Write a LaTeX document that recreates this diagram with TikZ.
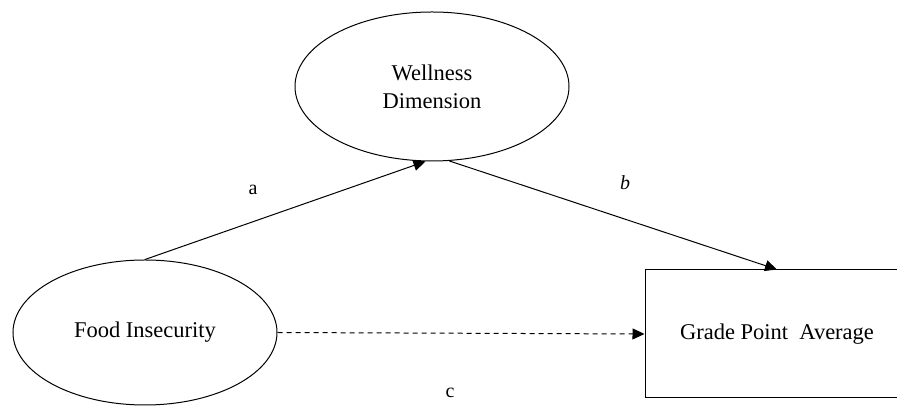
\documentclass[tikz,border=0pt]{standalone}
\usepackage{fontspec}
\setmainfont{Liberation Serif}
\usetikzlibrary{arrows.meta,shapes.geometric}

\tikzset{
  latent/.style={ellipse, draw, line width=1pt, inner sep=0pt, align=center},
  observed/.style={rectangle, draw, line width=1pt, inner sep=0pt, align=center},
  path/.style={line width=1pt, -{Triangle[length=12pt,width=11pt]}},
  lbl/.style={font=\fontsize{20}{24}\selectfont}
}

\begin{document}
\begin{tikzpicture}[x=1pt, y=1pt, font=\fontsize{22.5}{28}\selectfont]
		\useasboundingbox (0,0) rectangle (897,406);
		\clip (0,0) rectangle (897,406);
		\node[latent, minimum width=274pt, minimum height=149pt] (wellness) at (432,319.5) {Wellness\\Dimension};
		\node[latent, minimum width=264pt, minimum height=145pt] (food) at (145,73.5) {Food Insecurity};
		\node[observed, minimum width=264pt, minimum height=128pt] (gpa) at (777,72) {Grade Point\ \ Average};
		\draw[path] (food.north) -- (wellness.265);
		\draw[path] (wellness.283) -- (gpa.north);
		\draw[path, dash pattern=on 5pt off 4pt] (food.east) -- (gpa.west);
		\node[lbl] (la) at (253,216) {a};
		\node[lbl] (lb) at (625,223) {\textit{b}};
		\node[lbl] (lc) at (450,13) {c};
	\end{tikzpicture}
\end{document}
